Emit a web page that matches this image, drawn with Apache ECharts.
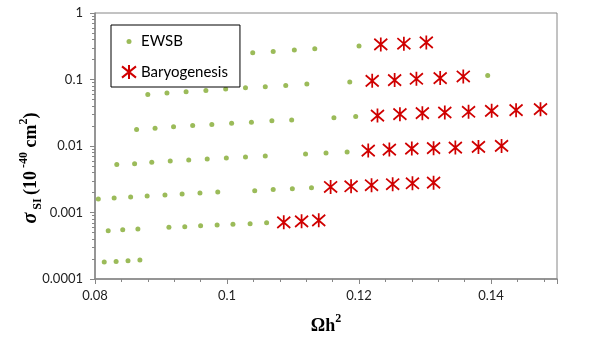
<!DOCTYPE html>
<html>
<head>
<meta charset="utf-8">
<script src="https://cdn.jsdelivr.net/npm/echarts@6/dist/echarts.min.js"></script>
<style>
  html, body { margin: 0; padding: 0; background: #fff; }
  #chart { width: 598px; height: 347px; }
</style>
</head>
<body>
<div id="chart"></div>
<script>
// EWSB points [Ωh², σ_SI], one row per band
var ewsbRowA = [[0.1039,0.252],[0.1070,0.264],[0.1102,0.277],[0.1133,0.290],[0.1200,0.318]];
var ewsbRowB = [[0.0880,0.0594],[0.0909,0.0624],[0.0938,0.0653],[0.0968,0.0683],[0.0998,0.0717],[0.1028,0.0750],[0.1058,0.0776],[0.1089,0.0813],[0.1121,0.0853],[0.1186,0.0914],[0.1395,0.115]];
var ewsbRowC = [[0.0863,0.01766],[0.0891,0.01853],[0.0919,0.0194],[0.0948,0.0203],[0.0977,0.0210],[0.1007,0.0220],[0.1037,0.0228],[0.1068,0.0239],[0.1098,0.0247],[0.1162,0.0265],[0.1195,0.0277]];
var ewsbRowD = [[0.0833,0.00525],[0.0860,0.00543],[0.0886,0.00570],[0.0914,0.00597],[0.0942,0.00618],[0.0970,0.00640],[0.0999,0.00662],[0.1028,0.00685],[0.1058,0.00709],[0.1119,0.00760],[0.1150,0.00787],[0.1182,0.00815]];
var ewsbRowE = [[0.0805,0.00160],[0.0829,0.00165],[0.0854,0.00171],[0.0879,0.00177],[0.0906,0.00184],[0.0932,0.00190],[0.0959,0.00197],[0.0986,0.00204],[0.1042,0.00213],[0.1070,0.00221],[0.1099,0.00228],[0.1128,0.00236]];
var ewsbRowF = [[0.0820,0.000532],[0.0842,0.000551],[0.0865,0.000565],[0.0912,0.000599],[0.0936,0.000611],[0.0960,0.000633],[0.0985,0.000648],[0.1009,0.000664],[0.1035,0.000678],[0.1060,0.000702]];
var ewsbRowG = [[0.0814,0.000180],[0.0832,0.000184],[0.0850,0.000188],[0.0868,0.000193]];

// Baryogenesis points
var baryoRowA = [[0.1233,0.337],[0.1268,0.345],[0.1302,0.361]];
var baryoRowB = [[0.1220,0.0956],[0.1254,0.098],[0.1287,0.1025],[0.1323,0.105],[0.1358,0.111]];
var baryoRowC = [[0.1228,0.0287],[0.1262,0.0301],[0.1296,0.0312],[0.1330,0.0319],[0.1366,0.0327],[0.1401,0.0338],[0.1438,0.0346],[0.1475,0.0358]];
var baryoRowD = [[0.1214,0.00853],[0.1246,0.00883],[0.1280,0.00914],[0.1313,0.00927],[0.1346,0.00946],[0.1381,0.00969],[0.1416,0.01004]];
var baryoRowE = [[0.1157,0.00242],[0.1188,0.00248],[0.1219,0.00257],[0.1251,0.00266],[0.1281,0.00275],[0.1313,0.00281]];
var baryoRowF = [[0.1086,0.000712],[0.1113,0.000737],[0.1139,0.000763]];

var yTickLabels = ['0.0001', '0.001', '0.01', '0.1', '1'];
var xTickLabels = { '0.08': '0.08', '0.1': '0.1', '0.12': '0.12', '0.14': '0.14' };

var ewsbData = [].concat(ewsbRowA, ewsbRowB, ewsbRowC, ewsbRowD, ewsbRowE, ewsbRowF, ewsbRowG);
var baryoData = [].concat(baryoRowA, baryoRowB, baryoRowC, baryoRowD, baryoRowE, baryoRowF);

var starPath = 'path://M10,0L10,20M0,2L20,18M20,2L0,18';
var dotIcon = 'path://M0,0M14,14M7,4.5a2.5,2.5 0 1,1 0,5a2.5,2.5 0 1,1 0,-5z';
var axisGray = '#868686';
var labelFont = 'Lato, "Open Sans", sans-serif';

var chart = echarts.init(document.getElementById('chart'));

var option = {
  backgroundColor: '#fff',
  animation: false,
  grid: {
    left: 95, right: 41, top: 13, bottom: 68,
    show: true, borderColor: axisGray, borderWidth: 1, backgroundColor: 'transparent'
  },
  legend: {
    orient: 'vertical',
    left: 111, top: 25,
    padding: [9, 12, 7, 10],
    itemGap: 15,
    itemWidth: 14, itemHeight: 14,
    backgroundColor: '#fff',
    borderColor: '#000', borderWidth: 1,
    textStyle: { fontFamily: labelFont, fontSize: 15, color: '#000' },
    data: [
      { name: 'EWSB', icon: dotIcon },
      { name: 'Baryogenesis' }
    ]
  },
  xAxis: {
    type: 'value',
    min: 0.08, max: 0.15, interval: 0.02,
    name: '{a|Ωh}{s|2}',
    nameLocation: 'middle',
    nameGap: 34,
    nameTextStyle: {
      rich: {
        a: { fontFamily: '"Liberation Serif", serif', fontWeight: 'bold', fontSize: 18, color: '#000', lineHeight: 22, verticalAlign: 'bottom' },
        s: { fontFamily: '"Liberation Serif", serif', fontWeight: 'bold', fontSize: 12, color: '#000', lineHeight: 22, verticalAlign: 'top' }
      }
    },
    axisLine: { onZero: false, lineStyle: { color: axisGray, width: 1.5 } },
    axisTick: { show: true, length: 5, lineStyle: { color: axisGray } },
    minorTick: { show: true, splitNumber: 5, length: 3, lineStyle: { color: axisGray } },
    splitLine: { show: false },
    axisLabel: {
      showMaxLabel: false,
      margin: 10,
      fontFamily: labelFont, fontSize: 13, color: '#222',
      formatter: function (v) {
        var k = String(Math.round(v * 100) / 100);
        return xTickLabels[k] || '';
      }
    }
  },
  yAxis: {
    type: 'log',
    logBase: 10,
    min: 0.0001, max: 1,
    axisLine: { show: true, lineStyle: { color: axisGray, width: 1.5 } },
    axisTick: { show: true, length: 5, lineStyle: { color: axisGray } },
    minorTick: { show: true, splitNumber: 9, length: 3, lineStyle: { color: axisGray } },
    splitLine: { show: false },
    axisLabel: {
      margin: 12,
      fontFamily: labelFont, fontSize: 13, color: '#222',
      formatter: function (v) {
        var i = Math.round(Math.log10(v)) + 4;
        return yTickLabels[i] || '';
      }
    }
  },
  graphic: [
    {
      type: 'text',
      x: 31, y: 168,
      rotation: Math.PI / 2,
      style: {
        text: '{g|σ}{sub| SI} {b|(10}{sup| -40}{b| cm}{sup|2}{b|)}',
        align: 'center',
        verticalAlign: 'middle',
        rich: {
          g: { fontFamily: '"Liberation Serif", serif', fontStyle: 'italic', fontWeight: 'bold', fontSize: 20, color: '#000', lineHeight: 26, verticalAlign: 'middle' },
          b: { fontFamily: '"Liberation Serif", serif', fontWeight: 'bold', fontSize: 18, color: '#000', lineHeight: 26, verticalAlign: 'middle' },
          sub: { fontFamily: '"Liberation Serif", serif', fontWeight: 'bold', fontSize: 12, color: '#000', lineHeight: 26, verticalAlign: 'bottom' },
          sup: { fontFamily: '"Liberation Serif", serif', fontWeight: 'bold', fontSize: 12, color: '#000', lineHeight: 26, verticalAlign: 'top' }
        }
      }
    }
  ],
  series: [
    {
      name: 'EWSB',
      type: 'scatter',
      symbol: 'circle',
      symbolSize: 5,
      itemStyle: { color: '#9BBB59', opacity: 1 },
      data: ewsbData,
      z: 2
    },
    {
      name: 'Baryogenesis',
      type: 'scatter',
      symbol: starPath,
      symbolSize: [13, 14],
      itemStyle: { color: 'transparent', borderColor: '#D00000', borderWidth: 1.8, opacity: 1 },
      data: baryoData,
      z: 3
    }
  ]
};

chart.setOption(option);
window.addEventListener('resize', function () { chart.resize(); });
</script>
</body>
</html>
